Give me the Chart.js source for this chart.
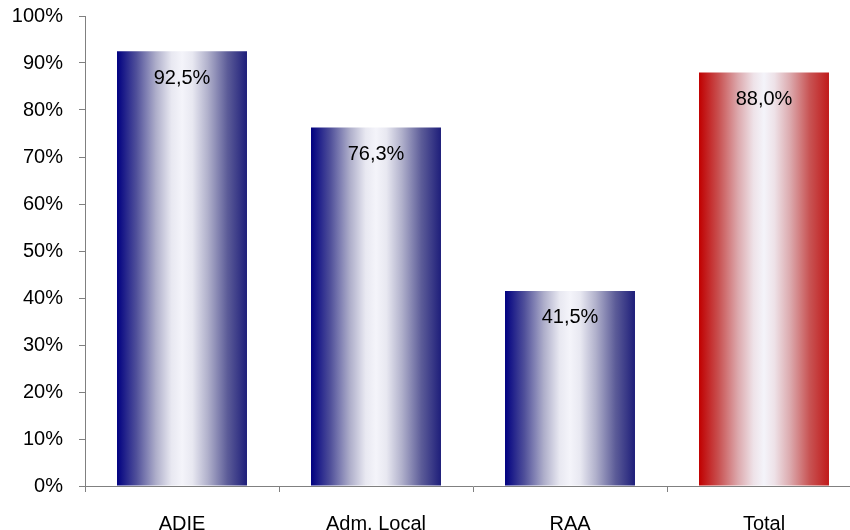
<!DOCTYPE html>
<html lang="pt">
<head>
<meta charset="UTF-8">
<title>Bar chart</title>
<script src="https://cdn.jsdelivr.net/npm/chart.js@4"></script>
<style>
  html, body { margin: 0; padding: 0; background: #fff; overflow: hidden; }
  .wrap { position: absolute; left: 0; top: 0; width: 870px; height: 545px; }
</style>
</head>
<body>
<div class="wrap"><canvas id="chart"></canvas></div>
<script>
const categories = ['ADIE', 'Adm. Local', 'RAA', 'Total'];
const values = [92.5, 76.3, 41.5, 88.0];
const yTicks = [0, 10, 20, 30, 40, 50, 60, 70, 80, 90, 100];

// gradient stops across the bar width
const BLUE = [[0, '#000080'], [0.15, '#50509a'], [0.3, '#aeaeca'], [0.42, '#e8e8f1'], [0.5, '#f4f4fa'],
              [0.58, '#e8e8f1'], [0.7, '#b0b0cb'], [0.85, '#5c5c98'], [1, '#1e1e7a']];
const RED = [[0, '#c00000'], [0.15, '#c85050'], [0.3, '#dca8ac'], [0.42, '#eee2e8'], [0.5, '#f4f4fa'],
             [0.58, '#eee2e8'], [0.7, '#dcaaae'], [0.85, '#c85454'], [1, '#c01a1a']];
const FONT = '"Liberation Sans", Arial, sans-serif';
const BAR_PCT = 0.67;

function fmt(v) { return v.toFixed(1).replace('.', ',') + '%'; }

function barFill(ctx) {
  const chart = ctx.chart;
  const stops = ctx.dataIndex === categories.length - 1 ? RED : BLUE;
  if (!chart.chartArea) return stops[0][1];
  const xs = chart.scales.x;
  const cx = xs.getPixelForValue(ctx.dataIndex);
  const w = xs.width / categories.length * BAR_PCT;
  const g = chart.ctx.createLinearGradient(cx - w / 2, 0, cx + w / 2, 0);
  stops.forEach(([o, c]) => g.addColorStop(o, c));
  return g;
}

// value labels inside top of bars
const valueLabels = {
  id: 'valueLabels',
  afterDatasetsDraw(chart) {
    const c = chart.ctx;
    c.save();
    c.font = '20px ' + FONT;
    c.fillStyle = '#000';
    c.textAlign = 'center';
    c.textBaseline = 'middle';
    chart.getDatasetMeta(0).data.forEach((bar, i) => {
      c.fillText(fmt(values[i]), bar.x, bar.y + 27);
    });
    c.restore();
  }
};

new Chart(document.getElementById('chart'), {
  type: 'bar',
  data: {
    labels: categories,
    datasets: [{
      data: values,
      backgroundColor: barFill,
      borderWidth: 0,
      categoryPercentage: 1,
      barPercentage: BAR_PCT
    }]
  },
  options: {
    responsive: true,
    maintainAspectRatio: false,
    animation: false,
    layout: { padding: { top: 16, right: 9, left: 0, bottom: 0 } },
    plugins: { legend: { display: false }, tooltip: { enabled: false } },
    scales: {
      y: {
        min: 0, max: 100,
        afterBuildTicks: s => { s.ticks = yTicks.map(v => ({ value: v })); },
        afterFit: s => { s.width = 85; s.paddingTop = 0; s.paddingBottom = 0; },
        ticks: { callback: v => v + '%', color: '#000', padding: 16, font: { family: FONT, size: 20 } },
        grid: { drawOnChartArea: false, drawTicks: true, tickLength: 6, color: '#808080' },
        border: { color: '#808080', width: 1 }
      },
      x: {
        afterFit: s => { s.height = 545 - 486; },
        ticks: { color: '#000', padding: 20, font: { family: FONT, size: 20 } },
        grid: { drawOnChartArea: false, drawTicks: true, tickLength: 6, color: '#808080', offset: true },
        border: { color: '#808080', width: 1 }
      }
    }
  },
  plugins: [valueLabels]
});
</script>
</body>
</html>
